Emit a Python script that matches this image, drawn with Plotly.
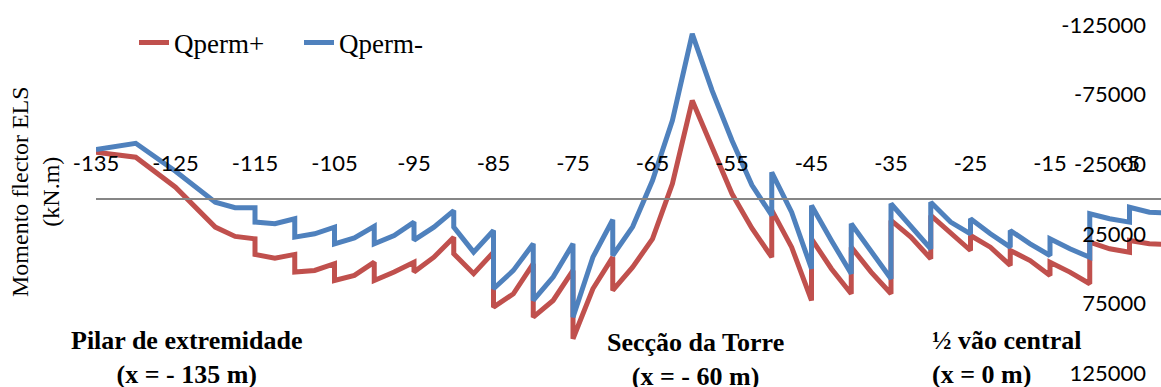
import plotly.graph_objects as go

# posição ao longo do tabuleiro (m); valores repetidos = salto no diagrama
x_pos = [-135, -130, -125, -120, -117.5, -115, -115, -112.5, -110, -110,
         -107.5, -105, -105, -102.5, -100, -100, -97.5, -95, -95, -92.5,
         -90, -90, -87.5, -85, -85, -82.5, -80, -80, -77.5, -75,
         -75, -72.5, -70, -70, -67.5, -65, -62.5, -60, -57.5, -55,
         -52.5, -50, -50, -47.5, -45, -45, -42.5, -40, -40, -37.5,
         -35, -35, -32.5, -30, -30, -27.5, -25, -25, -22.5, -20,
         -20, -17.5, -15, -15, -12.5, -10, -10, -7.5, -5, -5,
         -2.5, 0]

qperm_mais = [-33600, -30000, -8500, 20200, 26900, 28600, 39800, 42500, 39800, 52500,
              51300, 46500, 58500, 54900, 45400, 58500, 52500, 45400, 52500, 41800,
              27400, 39300, 53700, 38200, 77700, 68100, 46500, 84900, 72900, 51300,
              100400, 64500, 41800, 65700, 49000, 28600, -10900, -70700, -37200, -3700,
              21000, 41800, 8000, 34600, 72900, 28600, 50100, 68100, 34600, 52500,
              68100, 15400, 27400, 42900, 11800, 25000, 37000, 26200, 34600, 47700,
              37000, 44200, 54900, 45400, 52500, 60900, 31000, 35800, 38200, 29800,
              32200, 32700]

qperm_menos = [-35500, -40000, -20000, 2300, 6300, 6300, 16600, 17800, 14200, 27400,
               25000, 20200, 32200, 27900, 19700, 32200, 26200, 16600, 29600, 20200,
               8300, 20200, 38200, 22600, 64500, 51300, 32200, 72900, 56100, 32200,
               84900, 41800, 14900, 40600, 20000, -13300, -56400, -118600, -77900, -42000,
               -10000, 11800, -19200, 9500, 50100, 4700, 29800, 53700, 17800, 37000,
               57300, 3400, 20200, 35800, 2300, 16600, 25000, 14200, 25000, 34600,
               22600, 32200, 40600, 28600, 35800, 41800, 10600, 14200, 16600, 5900,
               9500, 10000]

x_ticks = list(range(-135, 0, 10))
y_ticks = [-125000, -75000, -25000, 25000, 75000, 125000]

W, H = 1161, 387
ML, MT, MB = 96, 25, 14
plot_w = W - ML
plot_h = H - MT - MB


def px(x):
    return (x - ML) / plot_w


def py(y):
    return (H - MB - y) / plot_h


fig = go.Figure()
fig.add_trace(go.Scatter(x=x_pos, y=qperm_mais, name='Qperm+', mode='lines',
                         line=dict(color='#C0504D', width=5)))
fig.add_trace(go.Scatter(x=x_pos, y=qperm_menos, name='Qperm-', mode='lines',
                         line=dict(color='#4F81BD', width=5)))

fig.update_layout(
    width=W, height=H,
    margin=dict(l=ML, r=0, t=MT, b=MB),
    plot_bgcolor='white', paper_bgcolor='white',
    showlegend=True,
    legend=dict(orientation='h', x=px(134), y=py(43), xanchor='left', yanchor='middle',
                font=dict(family='Liberation Serif', size=27, color='black'),
                bgcolor='rgba(0,0,0,0)', entrywidth=120, entrywidthmode='pixels'),
    xaxis=dict(range=[-135, -135 + plot_w / 7.95], tickvals=x_ticks,
               ticktext=[str(v) for v in x_ticks],
               anchor='free', position=0.5, side='top', automargin=False,
               showline=True, linecolor='#868686', linewidth=2,
               showgrid=False, zeroline=False, ticks='', ticklabelstandoff=18,
               tickfont=dict(family='Lato', size=22, color='black')),
    yaxis=dict(range=[125000, -125000], tickvals=y_ticks,
               ticktext=[str(v) for v in y_ticks], side='right', automargin=False,
               ticklabelposition='inside', ticklabeloverflow='allow',
               ticklabelstandoff=12, showgrid=False, zeroline=False, showline=False,
               ticks='', tickfont=dict(family='Lato', size=22, color='black')),
)

bold = dict(family='Liberation Serif, Times New Roman, serif', size=26,
            color='black', weight='bold')
fig.add_annotation(text='Pilar de extremidade<br>(x = - 135 m)',
                   xref='paper', yref='paper', x=px(187), y=py(357),
                   xanchor='center', yanchor='middle',
                   showarrow=False, align='center', font=bold)
fig.add_annotation(text='Secção da Torre<br>(x = - 60 m)',
                   xref='paper', yref='paper', x=px(695), y=py(359),
                   xanchor='center', yanchor='middle',
                   showarrow=False, align='center', font=bold)
fig.add_annotation(text='½ vão central<br>(x = 0 m)',
                   xref='paper', yref='paper', x=px(930), y=py(357),
                   xanchor='left', yanchor='middle',
                   showarrow=False, align='left', font=bold)
fig.add_annotation(text='Momento flector ELS<br>(kN.m)', textangle=-90,
                   xref='paper', yref='paper', x=px(35), y=py(192),
                   xanchor='center', yanchor='middle',
                   showarrow=False, align='center',
                   font=dict(family='Liberation Serif', size=24, color='black'))

# the page's default body margin would push the figure 8px off
fig.write_html('out.html', config={'displayModeBar': False},
               post_script="document.body.style.margin='0';")
